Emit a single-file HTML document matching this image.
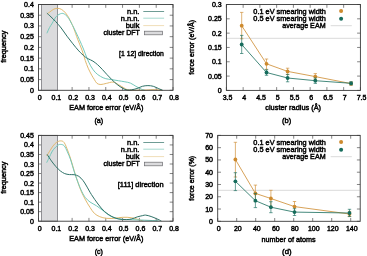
<!DOCTYPE html><html><head><meta charset="utf-8"><style>html,body{margin:0;padding:0;background:#fff;overflow:hidden}svg{display:block;will-change:transform}text{font-family:"Liberation Sans", sans-serif;fill:#000;stroke:#000;stroke-width:0.45px}</style></head><body>
<svg width="367" height="256" viewBox="0 0 367 256">
<rect width="367" height="256" fill="#fff"/>
<path d="M38.5,90.3v-3.3M38.5,4.5v3.3M55.31,90.3v-3.3M55.31,4.5v3.3M72.12,90.3v-3.3M72.12,4.5v3.3M88.94,90.3v-3.3M88.94,4.5v3.3M105.75,90.3v-3.3M105.75,4.5v3.3M122.56,90.3v-3.3M122.56,4.5v3.3M139.38,90.3v-3.3M139.38,4.5v3.3M156.19,90.3v-3.3M156.19,4.5v3.3M173,90.3v-3.3M173,4.5v3.3M38.5,90.3h3.3M173,90.3h-3.3M38.5,79.58h3.3M173,79.58h-3.3M38.5,68.85h3.3M173,68.85h-3.3M38.5,58.12h3.3M173,58.12h-3.3M38.5,47.4h3.3M173,47.4h-3.3M38.5,36.67h3.3M173,36.67h-3.3M38.5,25.95h3.3M173,25.95h-3.3M38.5,15.22h3.3M173,15.22h-3.3M38.5,4.5h3.3M173,4.5h-3.3" stroke="#505050" stroke-width="0.7" fill="none"/>
<g font-size="7.0"><text x="39.6" y="99.9" text-anchor="middle">0</text><text x="56.41" y="99.9" text-anchor="middle">0.1</text><text x="73.22" y="99.9" text-anchor="middle">0.2</text><text x="90.04" y="99.9" text-anchor="middle">0.3</text><text x="106.85" y="99.9" text-anchor="middle">0.4</text><text x="123.66" y="99.9" text-anchor="middle">0.5</text><text x="140.47" y="99.9" text-anchor="middle">0.6</text><text x="157.29" y="99.9" text-anchor="middle">0.7</text><text x="174.1" y="99.9" text-anchor="middle">0.8</text><text x="33.8" y="92.82" text-anchor="end">0</text><text x="33.8" y="82.09" text-anchor="end">0.05</text><text x="33.8" y="71.37" text-anchor="end">0.1</text><text x="33.8" y="60.64" text-anchor="end">0.15</text><text x="33.8" y="49.92" text-anchor="end">0.2</text><text x="33.8" y="39.2" text-anchor="end">0.25</text><text x="33.8" y="28.47" text-anchor="end">0.3</text><text x="33.8" y="17.74" text-anchor="end">0.35</text><text x="33.8" y="7.02" text-anchor="end">0.4</text></g>
<rect x="41.5" y="4.5" width="16" height="85.8" fill="#dbdbdd" stroke="#86868a" stroke-width="0.9"/>
<path d="M46.9,14 C47.42,13.63 48.83,12.62 50,11.8 C51.17,10.98 52.6,9.68 53.9,9.1 C55.2,8.52 56.5,8.23 57.8,8.3 C59.1,8.37 60.4,8.72 61.7,9.5 C63,10.28 64.42,11.63 65.6,13 C66.77,14.37 67.77,16.02 68.75,17.7 C69.73,19.38 70.62,21.22 71.5,23.1 C72.38,24.98 72.98,26.33 74,29 C75.02,31.67 76.22,35.45 77.6,39.1 C78.98,42.75 81.02,47.32 82.3,50.9 C83.58,54.48 84.32,57.72 85.3,60.6 C86.28,63.48 87.13,65.77 88.2,68.2 C89.27,70.63 90.67,73.3 91.7,75.2 C92.73,77.1 93.52,78.23 94.4,79.6 C95.28,80.97 95.92,82.58 97,83.4 C98.08,84.22 99.35,84.5 100.9,84.5 C102.45,84.5 104.3,83.8 106.3,83.4 C108.3,83 110.9,81.92 112.9,82.1 C114.9,82.28 116.48,83.55 118.3,84.5 C120.12,85.45 121.98,86.88 123.8,87.8 C125.62,88.72 125.83,89.62 129.2,90 C132.57,90.38 140.03,90.15 144,90.1 C147.97,90.05 150,89.7 153,89.7 C156,89.7 160.5,90.03 162,90.1" fill="none" stroke="#e2b96e" stroke-width="1"/>
<path d="M46.9,33.3 C47.33,32.35 48.6,29.3 49.5,27.6 C50.4,25.9 51.17,24.95 52.3,23.1 C53.42,21.25 54.68,18.12 56.25,16.5 C57.82,14.88 60.14,13.67 61.7,13.4 C63.26,13.13 64.42,14.05 65.6,14.9 C66.77,15.75 67.8,17.13 68.75,18.5 C69.7,19.87 70.38,21.38 71.3,23.1 C72.22,24.82 72.95,26.03 74.3,28.8 C75.65,31.57 77.87,36.32 79.4,39.7 C80.93,43.08 82.23,46.02 83.5,49.1 C84.77,52.18 85.82,55.42 87,58.2 C88.18,60.98 89.23,63.45 90.6,65.8 C91.97,68.15 93.55,70.53 95.2,72.3 C96.85,74.07 98.73,75.33 100.5,76.4 C102.27,77.47 103.93,78.17 105.8,78.7 C107.67,79.23 109.62,79.27 111.7,79.6 C113.78,79.93 116.1,80.33 118.3,80.7 C120.5,81.07 122.88,81.4 124.9,81.8 C126.92,82.2 128.57,82.35 130.4,83.1 C132.23,83.85 134.08,85.3 135.9,86.3 C137.72,87.3 139.85,88.45 141.3,89.1 C142.75,89.75 144.05,90.02 144.6,90.2" fill="none" stroke="#74c9bb" stroke-width="1"/>
<path d="M46.9,13.1 C47.58,13.73 49.53,15.48 51,16.9 C52.47,18.32 54,19.75 55.7,21.6 C57.4,23.45 59.32,25.57 61.2,28 C63.08,30.43 65.05,33.57 67,36.2 C68.95,38.83 70.93,41.35 72.9,43.8 C74.87,46.25 76.83,48.78 78.8,50.9 C80.77,53.02 83.13,55.18 84.7,56.5 C86.27,57.82 86.83,58.03 88.2,58.8 C89.57,59.57 91.33,60.12 92.9,61.1 C94.47,62.08 96.03,63.32 97.6,64.7 C99.17,66.08 100.73,67.75 102.3,69.4 C103.87,71.05 105.42,72.9 107,74.6 C108.58,76.3 110.1,77.95 111.8,79.6 C113.5,81.25 115.38,83.05 117.2,84.5 C119.02,85.95 121.05,87.38 122.7,88.3 C124.35,89.22 125.63,89.75 127.1,90 C128.57,90.25 129.85,90.05 131.5,89.8 C133.15,89.55 135.18,89.08 137,88.5 C138.82,87.92 140.58,86.78 142.4,86.3 C144.22,85.82 146.08,85.6 147.9,85.6 C149.72,85.6 151.48,85.78 153.3,86.3 C155.12,86.82 157.25,88.05 158.8,88.7 C160.35,89.35 161.97,89.95 162.6,90.2" fill="none" stroke="#2f7268" stroke-width="1"/>
<rect x="38.5" y="4.5" width="134.5" height="85.8" fill="none" stroke="#3a3a3a" stroke-width="0.9"/>
<text x="139.4" y="13.6" font-size="7.45" text-anchor="end">n.n.</text>
<text x="139.4" y="20.5" font-size="7.45" text-anchor="end">n.n.n.</text>
<text x="139.4" y="27.9" font-size="7.45" text-anchor="end">bulk</text>
<text x="139.95" y="35.2" font-size="7.45" text-anchor="end" textLength="36.54" lengthAdjust="spacingAndGlyphs">cluster DFT</text>
<path d="M143.3,11.5H164.1" stroke="#4a837a" stroke-width="0.8"/>
<path d="M143.3,18.2H164.1" stroke="#8ed0c3" stroke-width="0.8"/>
<path d="M143.3,25.6H164.1" stroke="#ebd4a6" stroke-width="0.8"/>
<rect x="144.5" y="31.2" width="18" height="3.6" fill="#dbdbdd" stroke="#6a6a6e" stroke-width="0.7"/>
<text x="163.9" y="56" font-size="7.45" text-anchor="end" textLength="44.85" lengthAdjust="spacingAndGlyphs">[1 12] direction</text>
<text x="106.3" y="110.3" font-size="7.45" text-anchor="middle" textLength="74.23" lengthAdjust="spacingAndGlyphs">EAM force error (eV/Å)</text>
<text x="98.8" y="122.8" font-size="7.45" text-anchor="middle" textLength="8.71" lengthAdjust="spacingAndGlyphs">(a)</text>
<text transform="translate(6.1,46.7) rotate(-90)" font-size="7.45" text-anchor="middle" textLength="32.13" lengthAdjust="spacingAndGlyphs">frequency</text>
<path d="M38.5,221.2v-3.3M38.5,135.4v3.3M55.31,221.2v-3.3M55.31,135.4v3.3M72.12,221.2v-3.3M72.12,135.4v3.3M88.94,221.2v-3.3M88.94,135.4v3.3M105.75,221.2v-3.3M105.75,135.4v3.3M122.56,221.2v-3.3M122.56,135.4v3.3M139.38,221.2v-3.3M139.38,135.4v3.3M156.19,221.2v-3.3M156.19,135.4v3.3M173,221.2v-3.3M173,135.4v3.3M38.5,221.2h3.3M173,221.2h-3.3M38.5,211.67h3.3M173,211.67h-3.3M38.5,202.13h3.3M173,202.13h-3.3M38.5,192.6h3.3M173,192.6h-3.3M38.5,183.07h3.3M173,183.07h-3.3M38.5,173.53h3.3M173,173.53h-3.3M38.5,164h3.3M173,164h-3.3M38.5,154.47h3.3M173,154.47h-3.3M38.5,144.93h3.3M173,144.93h-3.3M38.5,135.4h3.3M173,135.4h-3.3" stroke="#505050" stroke-width="0.7" fill="none"/>
<g font-size="7.0"><text x="39.6" y="231" text-anchor="middle">0</text><text x="56.41" y="231" text-anchor="middle">0.1</text><text x="73.22" y="231" text-anchor="middle">0.2</text><text x="90.04" y="231" text-anchor="middle">0.3</text><text x="106.85" y="231" text-anchor="middle">0.4</text><text x="123.66" y="231" text-anchor="middle">0.5</text><text x="140.47" y="231" text-anchor="middle">0.6</text><text x="157.29" y="231" text-anchor="middle">0.7</text><text x="174.1" y="231" text-anchor="middle">0.8</text><text x="33.8" y="223.72" text-anchor="end">0</text><text x="33.8" y="214.19" text-anchor="end">0.05</text><text x="33.8" y="204.65" text-anchor="end">0.1</text><text x="33.8" y="195.12" text-anchor="end">0.15</text><text x="33.8" y="185.59" text-anchor="end">0.2</text><text x="33.8" y="176.05" text-anchor="end">0.25</text><text x="33.8" y="166.52" text-anchor="end">0.3</text><text x="33.8" y="156.99" text-anchor="end">0.35</text><text x="33.8" y="147.45" text-anchor="end">0.4</text><text x="33.8" y="137.92" text-anchor="end">0.45</text></g>
<rect x="41.5" y="135.4" width="16" height="85.8" fill="#dbdbdd" stroke="#86868a" stroke-width="0.9"/>
<path d="M46.7,156 C47.28,155.05 49.15,151.97 50.2,150.3 C51.25,148.63 52,147.28 53,146 C54,144.72 54.97,143.45 56.2,142.6 C57.43,141.75 59.07,140.9 60.4,140.9 C61.73,140.9 62.95,140.92 64.2,142.6 C65.45,144.28 66.82,148.27 67.9,151 C68.98,153.73 69.48,155.15 70.7,159 C71.92,162.85 74.02,170.27 75.2,174.1 C76.38,177.93 76.85,179.25 77.8,182 C78.75,184.75 79.62,187.62 80.9,190.6 C82.18,193.58 83.98,197.1 85.5,199.9 C87.02,202.7 88.52,205.15 90,207.4 C91.48,209.65 92.77,211.85 94.4,213.4 C96.03,214.95 97.82,215.88 99.8,216.7 C101.78,217.52 103.93,218.03 106.3,218.3 C108.67,218.57 111.27,218.47 114,218.3 C116.73,218.13 119.73,217.38 122.7,217.3 C125.67,217.22 128.47,217.2 131.8,217.8 C135.13,218.4 140.88,220.38 142.7,220.9" fill="none" stroke="#e2b96e" stroke-width="1"/>
<path d="M46.7,162.6 C47.08,161.83 48.05,159.93 49,158 C49.95,156.07 51.05,153.03 52.4,151 C53.75,148.97 55.77,146.9 57.1,145.8 C58.43,144.7 59.22,144.4 60.4,144.4 C61.58,144.4 63.03,144.55 64.2,145.8 C65.37,147.05 66.32,149.53 67.4,151.9 C68.48,154.27 69.6,156.82 70.7,160 C71.8,163.18 72.78,167.25 74,171 C75.22,174.75 76.68,179.05 78,182.5 C79.32,185.95 80.67,189.18 81.9,191.7 C83.13,194.22 84.05,195.88 85.4,197.6 C86.75,199.32 88.15,200.63 90,202 C91.85,203.37 94.32,204.35 96.5,205.8 C98.68,207.25 100.92,209.07 103.1,210.7 C105.28,212.33 107.42,214.33 109.6,215.6 C111.78,216.87 114.02,217.67 116.2,218.3 C118.38,218.93 120.4,219.18 122.7,219.4 C125,219.62 124.03,219.37 130,219.6 C135.97,219.83 153.75,220.6 158.5,220.8" fill="none" stroke="#74c9bb" stroke-width="1"/>
<path d="M47.1,154.4 C47.82,155.48 49.92,158.85 51.4,160.9 C52.88,162.95 54.52,165.03 56,166.7 C57.48,168.37 58.85,169.75 60.3,170.9 C61.75,172.05 63.18,172.98 64.7,173.6 C66.22,174.22 67.83,174.42 69.4,174.6 C70.97,174.78 72.53,174.42 74.1,174.7 C75.67,174.98 77.32,175.33 78.8,176.3 C80.28,177.27 81.72,178.88 83,180.5 C84.28,182.12 85.1,183.67 86.5,186 C87.9,188.33 89.48,191.5 91.4,194.5 C93.32,197.5 95.82,201.17 98,204 C100.18,206.83 102.2,209.42 104.5,211.5 C106.8,213.58 109.5,215.27 111.8,216.5 C114.1,217.73 115.88,218.38 118.3,218.9 C120.72,219.42 124.05,219.6 126.3,219.6 C128.55,219.6 129.98,219.35 131.8,218.9 C133.62,218.45 135.38,217.45 137.2,216.9 C139.02,216.35 141.3,215.9 142.7,215.6 C144.1,215.3 144.2,214.95 145.6,215.1 C147,215.25 149.25,215.88 151.1,216.5 C152.95,217.12 155,218.07 156.7,218.8 C158.4,219.53 160.53,220.55 161.3,220.9" fill="none" stroke="#2f7268" stroke-width="1"/>
<rect x="38.5" y="135.4" width="134.5" height="85.8" fill="none" stroke="#3a3a3a" stroke-width="0.9"/>
<text x="139.4" y="144.6" font-size="7.45" text-anchor="end">n.n.</text>
<text x="139.4" y="151.5" font-size="7.45" text-anchor="end">n.n.n.</text>
<text x="139.4" y="158.9" font-size="7.45" text-anchor="end">bulk</text>
<text x="139.95" y="166.2" font-size="7.45" text-anchor="end" textLength="36.54" lengthAdjust="spacingAndGlyphs">cluster DFT</text>
<path d="M143.3,142.5H164.1" stroke="#4a837a" stroke-width="0.8"/>
<path d="M143.3,149.2H164.1" stroke="#8ed0c3" stroke-width="0.8"/>
<path d="M143.3,156.6H164.1" stroke="#ebd4a6" stroke-width="0.8"/>
<rect x="144.5" y="162.2" width="18" height="3.6" fill="#dbdbdd" stroke="#6a6a6e" stroke-width="0.7"/>
<text x="163.6" y="187" font-size="7.45" text-anchor="end" textLength="45.88" lengthAdjust="spacingAndGlyphs">[111] direction</text>
<text x="106.3" y="241.3" font-size="7.45" text-anchor="middle" textLength="74.23" lengthAdjust="spacingAndGlyphs">EAM force error (eV/Å)</text>
<text x="98.8" y="253.8" font-size="7.45" text-anchor="middle" textLength="8.32" lengthAdjust="spacingAndGlyphs">(c)</text>
<text transform="translate(6.1,177.7) rotate(-90)" font-size="7.45" text-anchor="middle" textLength="32.13" lengthAdjust="spacingAndGlyphs">frequency</text>
<path d="M226.4,90.4v-3.3M226.4,4.5v3.3M243.15,90.4v-3.3M243.15,4.5v3.3M259.9,90.4v-3.3M259.9,4.5v3.3M276.65,90.4v-3.3M276.65,4.5v3.3M293.4,90.4v-3.3M293.4,4.5v3.3M310.15,90.4v-3.3M310.15,4.5v3.3M326.9,90.4v-3.3M326.9,4.5v3.3M343.65,90.4v-3.3M343.65,4.5v3.3M360.4,90.4v-3.3M360.4,4.5v3.3M226.4,90.4h3.3M360.4,90.4h-3.3M226.4,76.08h3.3M360.4,76.08h-3.3M226.4,61.77h3.3M360.4,61.77h-3.3M226.4,47.45h3.3M360.4,47.45h-3.3M226.4,33.13h3.3M360.4,33.13h-3.3M226.4,18.82h3.3M360.4,18.82h-3.3M226.4,4.5h3.3M360.4,4.5h-3.3" stroke="#505050" stroke-width="0.7" fill="none"/>
<g font-size="7.0"><text x="227.5" y="99.9" text-anchor="middle">3.5</text><text x="244.25" y="99.9" text-anchor="middle">4</text><text x="261" y="99.9" text-anchor="middle">4.5</text><text x="277.75" y="99.9" text-anchor="middle">5</text><text x="294.5" y="99.9" text-anchor="middle">5.5</text><text x="311.25" y="99.9" text-anchor="middle">6</text><text x="328" y="99.9" text-anchor="middle">6.5</text><text x="344.75" y="99.9" text-anchor="middle">7</text><text x="361.5" y="99.9" text-anchor="middle">7.5</text><text x="221.7" y="92.92" text-anchor="end">0</text><text x="221.7" y="78.6" text-anchor="end">0.05</text><text x="221.7" y="64.29" text-anchor="end">0.1</text><text x="221.7" y="49.97" text-anchor="end">0.15</text><text x="221.7" y="35.65" text-anchor="end">0.2</text><text x="221.7" y="21.34" text-anchor="end">0.25</text><text x="221.7" y="7.02" text-anchor="end">0.3</text></g>
<path d="M226.9,38.3H359.9" stroke="#d6d6d6" stroke-width="0.9"/>
<path d="M241.7,25.7 L266.5,63.8 L287.6,71.4 L315.3,76.6 L351.1,83.6" fill="none" stroke="#cd8a2e" stroke-width="0.8"/>
<path d="M241.7,12.4V38.8M240,12.4h3.4M240,38.8h3.4M266.5,59V69.3M264.8,59h3.4M264.8,69.3h3.4M287.6,68.2V74.6M285.9,68.2h3.4M285.9,74.6h3.4M315.3,73.6V79.8M313.6,73.6h3.4M313.6,79.8h3.4M351.1,81.9V85.3M349.4,81.9h3.4M349.4,85.3h3.4" fill="none" stroke="#cd8a2e" stroke-width="0.65"/>
<circle cx="241.7" cy="25.7" r="1.9" fill="#cd8a2e"/>
<circle cx="266.5" cy="63.8" r="1.9" fill="#cd8a2e"/>
<circle cx="287.6" cy="71.4" r="1.9" fill="#cd8a2e"/>
<circle cx="315.3" cy="76.6" r="1.9" fill="#cd8a2e"/>
<circle cx="351.1" cy="83.6" r="1.9" fill="#cd8a2e"/>
<path d="M241.7,44.5 L266.5,72.5 L287.6,78 L315.3,80.7 L351.1,83.3" fill="none" stroke="#166c5c" stroke-width="0.8"/>
<path d="M241.7,35.4V53.5M240,35.4h3.4M240,53.5h3.4M266.5,69.8V75.3M264.8,69.8h3.4M264.8,75.3h3.4M287.6,74.4V81.8M285.9,74.4h3.4M285.9,81.8h3.4M315.3,78V83.4M313.6,78h3.4M313.6,83.4h3.4M351.1,81.8V84.8M349.4,81.8h3.4M349.4,84.8h3.4" fill="none" stroke="#166c5c" stroke-width="0.65"/>
<circle cx="241.7" cy="44.5" r="1.9" fill="#166c5c"/>
<circle cx="266.5" cy="72.5" r="1.9" fill="#166c5c"/>
<circle cx="287.6" cy="78" r="1.9" fill="#166c5c"/>
<circle cx="315.3" cy="80.7" r="1.9" fill="#166c5c"/>
<circle cx="351.1" cy="83.3" r="1.9" fill="#166c5c"/>
<rect x="226.4" y="4.5" width="134" height="85.9" fill="none" stroke="#3a3a3a" stroke-width="0.9"/>
<text x="325.85" y="13.5" font-size="7.45" text-anchor="end" textLength="72.51" lengthAdjust="spacingAndGlyphs">0.1 eV smearing width</text>
<text x="325.85" y="20.5" font-size="7.45" text-anchor="end" textLength="72.51" lengthAdjust="spacingAndGlyphs">0.5 eV smearing width</text>
<text x="325.6" y="27.8" font-size="7.45" text-anchor="end" textLength="43.26" lengthAdjust="spacingAndGlyphs">average EAM</text>
<circle cx="341.1" cy="11" r="2" fill="#cd8a2e"/>
<circle cx="341.1" cy="18.8" r="2" fill="#166c5c"/>
<path d="M330.7,25.7H351.8" stroke="#d6d6d6" stroke-width="0.9"/>
<text x="293.2" y="110.3" font-size="7.45" text-anchor="middle" textLength="55.81" lengthAdjust="spacingAndGlyphs">cluster radius (Å)</text>
<text x="286.6" y="122.8" font-size="7.45" text-anchor="middle" textLength="9.18" lengthAdjust="spacingAndGlyphs">(b)</text>
<text transform="translate(193.7,47.3) rotate(-90)" font-size="7.45" text-anchor="middle" textLength="55.07" lengthAdjust="spacingAndGlyphs">force error (eV/Å)</text>
<path d="M217.7,221.3v-3.3M217.7,135.4v3.3M236.7,221.3v-3.3M236.7,135.4v3.3M255.7,221.3v-3.3M255.7,135.4v3.3M274.7,221.3v-3.3M274.7,135.4v3.3M293.7,221.3v-3.3M293.7,135.4v3.3M312.7,221.3v-3.3M312.7,135.4v3.3M331.7,221.3v-3.3M331.7,135.4v3.3M350.7,221.3v-3.3M350.7,135.4v3.3M217.7,221.3h3.3M360.2,221.3h-3.3M217.7,209.03h3.3M360.2,209.03h-3.3M217.7,196.76h3.3M360.2,196.76h-3.3M217.7,184.49h3.3M360.2,184.49h-3.3M217.7,172.21h3.3M360.2,172.21h-3.3M217.7,159.94h3.3M360.2,159.94h-3.3M217.7,147.67h3.3M360.2,147.67h-3.3M217.7,135.4h3.3M360.2,135.4h-3.3" stroke="#505050" stroke-width="0.7" fill="none"/>
<g font-size="7.0"><text x="218.8" y="231" text-anchor="middle">0</text><text x="237.8" y="231" text-anchor="middle">20</text><text x="256.8" y="231" text-anchor="middle">40</text><text x="275.8" y="231" text-anchor="middle">60</text><text x="294.8" y="231" text-anchor="middle">80</text><text x="313.8" y="231" text-anchor="middle">100</text><text x="332.8" y="231" text-anchor="middle">120</text><text x="351.8" y="231" text-anchor="middle">140</text><text x="213" y="223.82" text-anchor="end">0</text><text x="213" y="211.55" text-anchor="end">10</text><text x="213" y="199.28" text-anchor="end">20</text><text x="213" y="187.01" text-anchor="end">30</text><text x="213" y="174.73" text-anchor="end">40</text><text x="213" y="162.46" text-anchor="end">50</text><text x="213" y="150.19" text-anchor="end">60</text><text x="213" y="137.92" text-anchor="end">70</text></g>
<path d="M218.2,190.3H359.7" stroke="#d6d6d6" stroke-width="0.9"/>
<path d="M235.4,159.5 L255.4,193.4 L270.9,198.5 L294.5,206.6 L349.5,214" fill="none" stroke="#cd8a2e" stroke-width="0.8"/>
<path d="M235.4,142.3V177M233.7,142.3h3.4M233.7,177h3.4M255.4,185.1V201.5M253.7,185.1h3.4M253.7,201.5h3.4M270.9,190.3V206.7M269.2,190.3h3.4M269.2,206.7h3.4M294.5,201.5V211.7M292.8,201.5h3.4M292.8,211.7h3.4M349.5,211.4V216.6M347.8,211.4h3.4M347.8,216.6h3.4" fill="none" stroke="#cd8a2e" stroke-width="0.65"/>
<circle cx="235.4" cy="159.5" r="1.9" fill="#cd8a2e"/>
<circle cx="255.4" cy="193.4" r="1.9" fill="#cd8a2e"/>
<circle cx="270.9" cy="198.5" r="1.9" fill="#cd8a2e"/>
<circle cx="294.5" cy="206.6" r="1.9" fill="#cd8a2e"/>
<circle cx="349.5" cy="214" r="1.9" fill="#cd8a2e"/>
<path d="M235.4,181.3 L255.4,200.7 L270.9,207.2 L294.5,212.1 L349.5,213" fill="none" stroke="#166c5c" stroke-width="0.8"/>
<path d="M235.4,172.7V190.6M233.7,172.7h3.4M233.7,190.6h3.4M255.4,193.4V207.6M253.7,193.4h3.4M253.7,207.6h3.4M270.9,201.7V212.7M269.2,201.7h3.4M269.2,212.7h3.4M294.5,208.7V215.5M292.8,208.7h3.4M292.8,215.5h3.4M349.5,209.3V216.5M347.8,209.3h3.4M347.8,216.5h3.4" fill="none" stroke="#166c5c" stroke-width="0.65"/>
<circle cx="235.4" cy="181.3" r="1.9" fill="#166c5c"/>
<circle cx="255.4" cy="200.7" r="1.9" fill="#166c5c"/>
<circle cx="270.9" cy="207.2" r="1.9" fill="#166c5c"/>
<circle cx="294.5" cy="212.1" r="1.9" fill="#166c5c"/>
<circle cx="349.5" cy="213" r="1.9" fill="#166c5c"/>
<rect x="217.7" y="135.4" width="142.5" height="85.9" fill="none" stroke="#3a3a3a" stroke-width="0.9"/>
<text x="325.85" y="144.5" font-size="7.45" text-anchor="end" textLength="72.51" lengthAdjust="spacingAndGlyphs">0.1 eV smearing width</text>
<text x="325.85" y="151.5" font-size="7.45" text-anchor="end" textLength="72.51" lengthAdjust="spacingAndGlyphs">0.5 eV smearing width</text>
<text x="325.6" y="158.8" font-size="7.45" text-anchor="end" textLength="43.26" lengthAdjust="spacingAndGlyphs">average EAM</text>
<circle cx="341.1" cy="142" r="2" fill="#cd8a2e"/>
<circle cx="341.1" cy="149.8" r="2" fill="#166c5c"/>
<path d="M330.7,156.7H351.8" stroke="#d6d6d6" stroke-width="0.9"/>
<text x="288.5" y="241.6" font-size="7.45" text-anchor="middle" textLength="54.04" lengthAdjust="spacingAndGlyphs">number of atoms</text>
<text x="286.9" y="253.8" font-size="7.45" text-anchor="middle" textLength="9.52" lengthAdjust="spacingAndGlyphs">(d)</text>
<text transform="translate(193.6,178.3) rotate(-90)" font-size="7.45" text-anchor="middle" textLength="44.9" lengthAdjust="spacingAndGlyphs">force error (%)</text>
</svg></body></html>
